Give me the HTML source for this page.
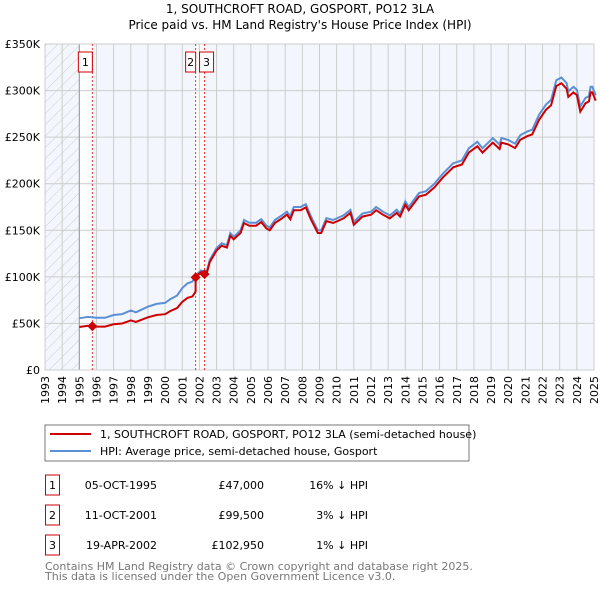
<!DOCTYPE html>
<html><head><meta charset="utf-8"><style>
body{margin:0;background:#fff;font-family:"Liberation Sans","DejaVu Sans",sans-serif;}
svg text{font-family:"DejaVu Sans","Liberation Sans",sans-serif;}
</style></head><body>
<svg id="c" width="600" height="590" xmlns="http://www.w3.org/2000/svg">
<defs><pattern id="hatch" width="8" height="8" patternUnits="userSpaceOnUse" patternTransform="rotate(45)"><line x1="0" y1="0" x2="0" y2="8" stroke="#ccc" stroke-width="1"/></pattern></defs>
<text x="300" y="13" text-anchor="middle" font-size="12">1, SOUTHCROFT ROAD, GOSPORT, PO12 3LA</text>
<text x="300" y="29" text-anchor="middle" font-size="12">Price paid vs. HM Land Registry's House Price Index (HPI)</text>
<g id="plot"></g>
<g>
<rect x="45" y="425" width="424" height="36" fill="#fff" stroke="#777"/>
<line x1="50" y1="434" x2="91" y2="434" stroke="#cc0000" stroke-width="2"/>
<text x="100" y="438" font-size="11">1, SOUTHCROFT ROAD, GOSPORT, PO12 3LA (semi-detached house)</text>
<line x1="50" y1="451" x2="91" y2="451" stroke="#5b8fd6" stroke-width="2"/>
<text x="100" y="455" font-size="11">HPI: Average price, semi-detached house, Gosport</text>
</g>
<g id="tbl" font-size="11"></g>
<text x="45" y="570" font-size="11" fill="#777">Contains HM Land Registry data © Crown copyright and database right 2025.</text>
<text x="45" y="580" font-size="11" fill="#777">This data is licensed under the Open Government Licence v3.0.</text>
</svg>
<script>
const yTicks=[0,50,100,150,200,250,300,350];
const yTickLabels=["£0","£50K","£100K","£150K","£200K","£250K","£300K","£350K"];
const xYears=[1993,1994,1995,1996,1997,1998,1999,2000,2001,2002,2003,2004,2005,2006,2007,2008,2009,2010,2011,2012,2013,2014,2015,2016,2017,2018,2019,2020,2021,2022,2023,2024,2025];
const hpiT=[1995.0,1995.5,1996,1996.5,1997,1997.5,1998,1998.3,1999,1999.5,2000,2000.3,2000.7,2001,2001.3,2001.6,2001.8,2002.1,2002.4,2002.6,2003.0,2003.3,2003.6,2003.8,2004.0,2004.4,2004.6,2004.9,2005.3,2005.6,2005.9,2006.1,2006.4,2006.8,2007.1,2007.3,2007.5,2007.9,2008.2,2008.5,2008.9,2009.1,2009.4,2009.8,2010.4,2010.8,2011.0,2011.5,2012.0,2012.3,2012.7,2013.1,2013.5,2013.7,2014.0,2014.2,2014.8,2015.2,2015.7,2016.2,2016.8,2017.3,2017.7,2018.2,2018.5,2019.1,2019.5,2019.6,2020.0,2020.4,2020.7,2021.1,2021.4,2021.8,2022.2,2022.5,2022.8,2023.1,2023.4,2023.5,2023.8,2024.0,2024.2,2024.5,2024.7,2024.8,2024.9,2025.1];
const hpiV=[55.5,57,56,56,59,60,64,62,68,71,72,76,80,88,93,95,102,107,104,118,131,136,134,147,143,150,161,158,158,162,155,153,161,166,170,165,175,175,178,165,150,150,163,161,166,172,159,168,170,175,170,166,172,168,181,175,190,192,200,211,222,225,238,245,238,249,242,249,247,243,252,256,258,274,285,290,311,314,308,299,304,301,283,292,294,304,304,295];
const saleT=[1995.76,2001.78,2002.3];
const saleV=[47,99.5,102.95];
const saleDates=["05-OCT-1995","11-OCT-2001","19-APR-2002"];
const salePrices=["£47,000","£99,500","£102,950"];
const saleDiff=["16% ↓ HPI","3% ↓ HPI","1% ↓ HPI"];

const X0=45,X1=594,Y0=370,Y1=44;
const xs=t=>X0+(t-1993)/(2025-1993)*(X1-X0);
const ys=v=>Y0-v/350*(Y0-Y1);
const NS="http://www.w3.org/2000/svg";
function mk(tag,attrs,parent){const e=document.createElementNS(NS,tag);for(const k in attrs)e.setAttribute(k,attrs[k]);parent.appendChild(e);return e;}
const g=document.getElementById('plot');
function hpiAt(t){for(let i=1;i<hpiT.length;i++){if(t<=hpiT[i]){const f=(t-hpiT[i-1])/(hpiT[i]-hpiT[i-1]);return hpiV[i-1]+f*(hpiV[i]-hpiV[i-1]);}}return hpiV[hpiV.length-1];}
let r=mk('rect',{x:X0,y:Y1,width:X1-X0,height:Y0-Y1,fill:'#f3f7fd'},g);


r=mk('rect',{x:X0,y:Y1,width:xs(1995)-X0,height:Y0-Y1,fill:'url(#hatch)'},g);


r=mk('rect',{x:xs(1995),y:Y1,width:xs(saleT[0])-xs(1995),height:Y0-Y1,fill:'#fff'},g);


r=mk('rect',{x:xs(saleT[1]),y:Y1,width:xs(saleT[2])-xs(saleT[1]),height:Y0-Y1,fill:'#fff'},g);


yTicks.forEach((v,i)=>{
 const l=mk('line',{x1:X0,x2:X1,y1:ys(v),y2:ys(v),stroke:'#ccc'},g);
 
 
 const t=mk('text',{x:X0-5,y:ys(v)+4,'text-anchor':'end','font-size':11},g);t.textContent=yTickLabels[i];
 
 
});
xYears.forEach(yr=>{
 const l=mk('line',{x1:xs(yr),x2:xs(yr),y1:Y1,y2:Y0,stroke:'#ccc'},g);
 
 
 const tx=xs(yr)+4, ty=Y0+6;
 const t=mk('text',{x:tx,y:ty,'text-anchor':'end','font-size':11,transform:'rotate(-90 '+tx.toFixed(1)+' '+ty+')'},g);t.textContent=yr;
 
 
});
let l=mk('line',{x1:xs(1995),x2:xs(1995),y1:Y1,y2:Y0,stroke:'#999'},g);


r=mk('rect',{x:X0,y:Y1,width:X1-X0,height:Y0-Y1,fill:'none',stroke:'#ccc'},g);


saleT.forEach((t,i)=>{
 const ln=mk('line',{x1:xs(t),x2:xs(t),y1:Y1,y2:Y0,stroke:'#e33','stroke-dasharray':'2,2'},g);
 
 
 const bx=i===2?xs(t)-5:xs(t)-14;
 const rb=mk('rect',{x:i===1?xs(t)-10:bx,y:52,width:i===1?10:14,height:20,fill:'#fff',stroke:'#c00'},g);
 
 
 const tx=mk('text',{x:(i===1?xs(t)-5:bx+7),y:66,'text-anchor':'middle','font-size':11},g);tx.textContent=i+1;
 
 
});
let d=hpiT.map((t,i)=>(i?'L':'M')+xs(t).toFixed(1)+','+ys(hpiV[i]).toFixed(1)).join('');
let p=mk('path',{d:d,fill:'none',stroke:'#5b8fd6','stroke-width':2},g);


function ratioAt(t){let k=0;for(let i=0;i<saleT.length;i++)if(t>=saleT[i])k=i;return saleV[k]/hpiAt(saleT[k]);}
const pts=[];const allT=hpiT.concat(saleT).sort((a,b)=>a-b);
allT.forEach(t=>{
 let k=0;for(let i=0;i<saleT.length;i++)if(t>=saleT[i]-1e-9)k=i;
 if(saleT.includes(t)&&k>0){const rp=saleV[k-1]/hpiAt(saleT[k-1]);pts.push([t,hpiAt(t)*rp]);}
 pts.push([t,hpiAt(t)*ratioAt(t)]);
});
d=pts.map((q,i)=>(i?'L':'M')+xs(q[0]).toFixed(1)+','+ys(q[1]).toFixed(1)).join('');
p=mk('path',{d:d,fill:'none',stroke:'#cc0000','stroke-width':2},g);


saleT.forEach((t,i)=>{
 const c=mk('path',{d:`M${xs(t)-5},${ys(saleV[i])}l5,-5l5,5l-5,5z`,fill:'#cc0000'},g);
 
 
});
const tb=document.getElementById('tbl');
saleT.forEach((t,i)=>{
 const cy=485+i*30;
 const rb=mk('rect',{x:45.5,y:cy-10,width:14,height:20,fill:'#fff',stroke:'#c00'},tb);
 
 
 let tx=mk('text',{x:52.5,y:cy+4,'text-anchor':'middle'},tb);tx.textContent=i+1;
 
 
 tx=mk('text',{x:157,y:cy+4,'text-anchor':'end'},tb);tx.textContent=saleDates[i];
 
 
 tx=mk('text',{x:264,y:cy+4,'text-anchor':'end'},tb);tx.textContent=salePrices[i];
 
 
 tx=mk('text',{x:368,y:cy+4,'text-anchor':'end'},tb);tx.textContent=saleDiff[i];
 
 
});
</script>
</body></html>
